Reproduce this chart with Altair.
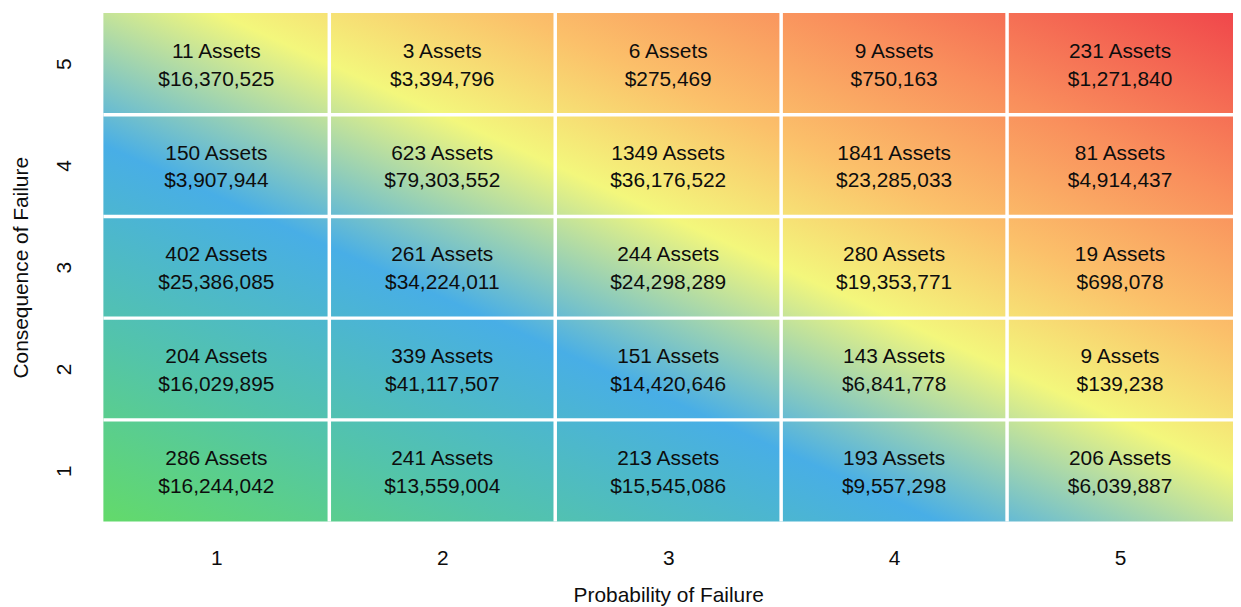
import altair as alt
import pandas as pd

# ---- data -------------------------------------------------------------
probability = [1, 2, 3, 4, 5]
consequence = [5, 4, 3, 2, 1]

assets = [
    [11, 3, 6, 9, 231],
    [150, 623, 1349, 1841, 81],
    [402, 261, 244, 280, 19],
    [204, 339, 151, 143, 9],
    [286, 241, 213, 193, 206],
]
costs = [
    [16370525, 3394796, 275469, 750163, 1271840],
    [3907944, 79303552, 36176522, 23285033, 4914437],
    [25386085, 34224011, 24298289, 19353771, 698078],
    [16029895, 41117507, 14420646, 6841778, 139238],
    [16244042, 13559004, 15545086, 9557298, 6039887],
]

tick_values = [1, 2, 3, 4, 5]
domain = [0.5, 5.5]
separators = [1.5, 2.5, 3.5, 4.5]

gradient_stops = [
    (0.00, "#63da6a"),
    (0.18, "#53c4aa"),
    (0.37, "#48aee6"),
    (0.55, "#f3f77c"),
    (0.68, "#fbc06a"),
    (0.82, "#f98e5c"),
    (1.00, "#f0474b"),
]

# ---- tables -------------------------------------------------------------
rows = []
for i, c in enumerate(consequence):
    for j, p in enumerate(probability):
        rows.append({
            "prob": p,
            "cons": c,
            "line1": f"{assets[i][j]} Assets",
            "line2": f"${costs[i][j]:,}",
        })
cells = pd.DataFrame(rows)
bg = pd.DataFrame([{"x": domain[0], "x2": domain[1], "y": domain[0], "y2": domain[1]}])
seps = pd.DataFrame({"s": separators})

FONT = "Liberation Sans"
INK = "#0d0d0d"
FS = 21

xscale = alt.Scale(domain=domain, nice=False, zero=False)
yscale = alt.Scale(domain=domain, nice=False, zero=False)

xaxis = alt.Axis(
    values=tick_values, format="d", title="Probability of Failure",
    grid=False, domain=False, ticks=False, labelPadding=26,
    labelFontSize=FS, labelColor=INK, labelFont=FONT,
    titleFontSize=FS, titleFont=FONT, titleFontWeight="normal", titleColor=INK,
    titleY=80, titleBaseline="alphabetic",
)
yaxis = alt.Axis(
    values=tick_values, format="d", title="Consequence of Failure",
    grid=False, domain=False, ticks=False, labelPadding=39,
    labelAngle=270, labelAlign="center", labelBaseline="middle",
    labelFontSize=FS, labelColor=INK, labelFont=FONT,
    titleFontSize=FS, titleFont=FONT, titleFontWeight="normal", titleColor=INK,
    titleAngle=270, titleX=-82, titleY=256, titleAlign="center", titleBaseline="middle",
)

gradient = alt.Gradient(
    gradient="linear",
    x1=0, y1=1, x2=1, y2=0,
    stops=[alt.GradientStop(offset=o, color=c) for o, c in gradient_stops],
)


def X(field):
    return alt.X(field, scale=xscale, axis=xaxis)


def Y(field):
    return alt.Y(field, scale=yscale, axis=yaxis)


background = alt.Chart(bg).mark_rect(fill=gradient).encode(
    x=X("x:Q"), x2="x2", y=Y("y:Q"), y2="y2",
)

vrules = alt.Chart(seps).mark_rule(color="white", strokeWidth=3.5).encode(
    x=X("s:Q"),
)
hrules = alt.Chart(seps).mark_rule(color="white", strokeWidth=3.5).encode(
    y=Y("s:Q"),
)

text1 = alt.Chart(cells).mark_text(
    font=FONT, fontSize=FS, color=INK, baseline="alphabetic", dy=-6
).encode(x=X("prob:Q"), y=Y("cons:Q"), text="line1:N")

text2 = alt.Chart(cells).mark_text(
    font=FONT, fontSize=FS, color=INK, baseline="alphabetic", dy=22
).encode(x=X("prob:Q"), y=Y("cons:Q"), text="line2:N")

chart = alt.layer(background, vrules, hrules, text1, text2).properties(
    width=1137,
    height=512,
    autosize=alt.AutoSizeParams(type="none"),
    padding={"left": 96, "top": 3, "right": 0, "bottom": 84},
).configure_view(stroke=None)

chart.save("out.html", embed_options={"renderer": "svg", "actions": False})
